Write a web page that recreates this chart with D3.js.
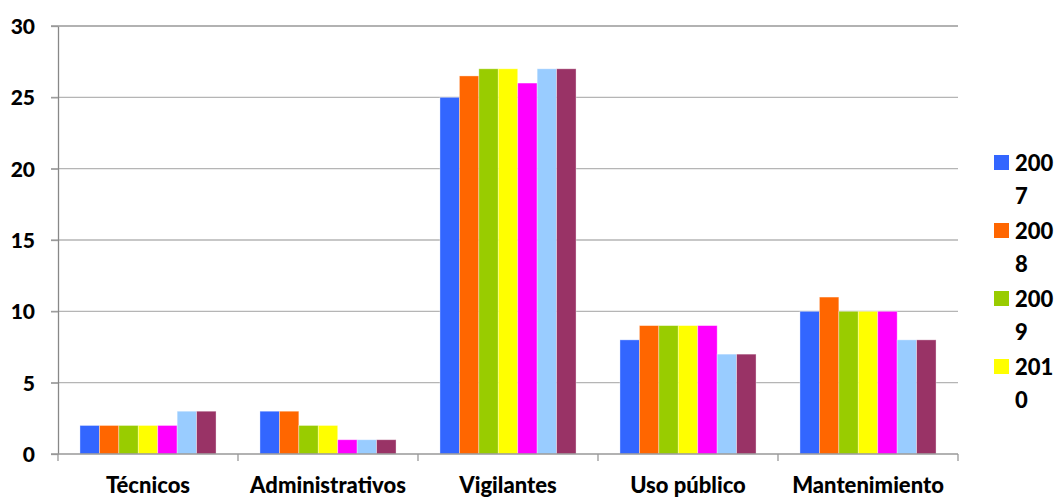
<!DOCTYPE html>
<html><head><meta charset="utf-8">
<script src="https://cdn.jsdelivr.net/npm/d3@7"></script>
<style>body{margin:0;background:#fff}svg text{font-family:Lato,"Open Sans",sans-serif;font-weight:900;fill:#000}</style>
</head><body>
<svg id="c" width="1057" height="498"></svg>
<script>
const categories = ["Técnicos","Administrativos","Vigilantes","Uso público","Mantenimiento"];
const years = ["2007","2008","2009","2010","2011","2012","2013"];
const colors = ["#3366FF","#FF6600","#99CC00","#FFFF00","#FF00FF","#99CCFF","#993366"];
const s2007 = [2,3,25,8,10];
const s2008 = [2,3,26.5,9,11];
const s2009 = [2,2,27,9,10];
const s2010 = [2,2,27,9,10];
const s2011 = [2,1,26,9,10];
const s2012 = [3,1,27,7,8];
const s2013 = [3,1,27,7,8];
const series = [s2007,s2008,s2009,s2010,s2011,s2012,s2013];
const yTicks = [0,5,10,15,20,25,30];
const legendYears = ["2007","2008","2009","2010"];

const svg = d3.select("#c");
const L=58, R=958, T=26, B=454;
const x = d3.scaleBand().domain(categories).range([L,R]).paddingInner(0.244).paddingOuter(0.122);
const xs = d3.scaleBand().domain(years).range([0,x.bandwidth()]);
const y = d3.scaleLinear().domain([0,30]).range([B,T]);

// gridlines
svg.append("g").selectAll("line").data(yTicks.filter(d=>d>0)).join("line")
  .attr("x1",L-7).attr("x2",R).attr("y1",d=>y(d)).attr("y2",d=>y(d))
  .attr("stroke",d=>d===30?"#999":"#b5b5b5").attr("stroke-width",1.3);

// bars
const g = svg.append("g");
series.forEach((vals,i)=>{
  g.selectAll(null).data(vals.map((v,j)=>({c:categories[j],v}))).join("rect")
    .attr("x",d=>x(d.c)+xs(years[i]))
    .attr("width",xs.bandwidth())
    .attr("y",d=>y(d.v))
    .attr("height",d=>B-y(d.v))
    .attr("fill",colors[i])
    .attr("stroke","rgba(255,255,255,0.45)").attr("stroke-width",0.8);
});

// y axis
const ya = d3.axisLeft(y).tickValues(yTicks).tickSize(7).tickSizeOuter(0).tickPadding(14);
const yg = svg.append("g").attr("transform",`translate(${L},0)`).call(ya);
yg.select(".domain").attr("stroke","#888").attr("stroke-width",1.3);
yg.selectAll(".tick line").attr("stroke","#999").attr("stroke-width",1.3);
yg.selectAll(".tick text").style("font-size","21px").attr("x",-23).attr("dy","0.36em");

// x axis
const xa = svg.append("g").attr("transform",`translate(0,${B})`);
xa.append("line").attr("x1",L-7).attr("x2",R).attr("stroke","#999").attr("stroke-width",1.3);
const bounds = d3.range(categories.length+1).map(i=>L+(R-L)*i/categories.length);
xa.selectAll("line.t").data(bounds).join("line").attr("class","t")
  .attr("x1",d=>d).attr("x2",d=>d).attr("y1",0).attr("y2",7).attr("stroke","#999").attr("stroke-width",1.3);
xa.selectAll("text").data(categories).join("text")
  .attr("x",d=>x(d)+x.bandwidth()/2).attr("y",39).attr("text-anchor","middle")
  .style("font-size","22px").text(d=>d);

// legend
const lg = svg.append("g");
legendYears.forEach((yr,i)=>{
  const cy = 163 + i*68;
  lg.append("rect").attr("x",994).attr("y",cy-8).attr("width",15).attr("height",15).attr("fill",colors[i]);
  const t = lg.append("text").attr("x",1015).attr("y",cy+8).style("font-size","22px");
  t.append("tspan").text(yr.slice(0,3));
  t.append("tspan").attr("x",1015).attr("dy",33).text(yr.slice(3));
});
</script>
</body></html>
